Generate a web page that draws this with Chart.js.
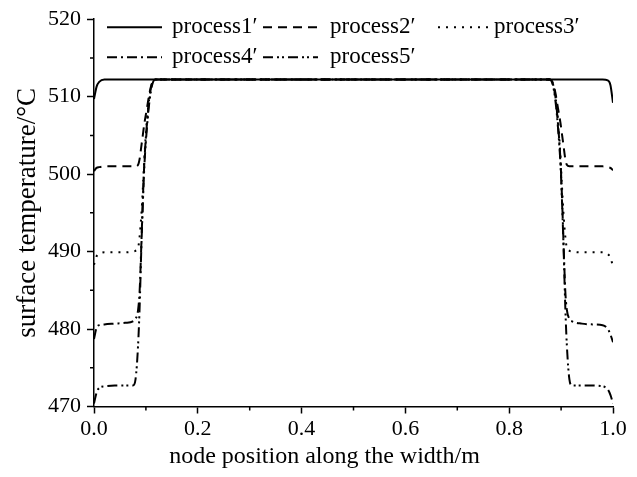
<!DOCTYPE html>
<html>
<head>
<meta charset="utf-8">
<script src="https://cdn.jsdelivr.net/npm/chart.js@4/dist/chart.umd.min.js"></script>
<style>
  html, body { margin: 0; padding: 0; background: #fff; }
  #wrap { width: 637px; height: 477px; }
</style>
</head>
<body>
<div id="wrap"><canvas id="tempChart"></canvas></div>
<script>
// node positions along the width (m)
const nodePos = [0, 0.005, 0.01, 0.02, 0.04, 0.06, 0.075,
    0.08, 0.085, 0.088, 0.091, 0.094, 0.097, 0.102, 0.107, 0.112, 0.118,
    0.13, 0.2, 0.3, 0.4, 0.5, 0.6, 0.7, 0.8, 0.87,
    0.878, 0.884, 0.889, 0.894, 0.899, 0.902, 0.905, 0.908, 0.911, 0.916, 0.921,
    0.94, 0.96, 0.98, 0.99, 0.995, 1.0];

// surface temperature (°C) per process
const process1 = [509.7, 511.3, 511.9, 512.2, 512.2, 512.2, 512.2,
    512.2, 512.2, 512.2, 512.2, 512.2, 512.2, 512.2, 512.2, 512.2, 512.2,
    512.2, 512.2, 512.2, 512.2, 512.2, 512.2, 512.2, 512.2, 512.2,
    512.2, 512.2, 512.2, 512.2, 512.2, 512.2, 512.2, 512.2, 512.2, 512.2, 512.2,
    512.2, 512.2, 512.2, 512.1, 511.5, 509.2];
const process2 = [500.4, 500.8, 500.9, 501.0, 501.0, 501.0, 501.0,
    501.0, 501.2, 502.0, 503.5, 505.0, 506.5, 508.5, 510.5, 511.8, 512.2,
    512.2, 512.2, 512.2, 512.2, 512.2, 512.2, 512.2, 512.2, 512.2,
    512.2, 511.8, 510.5, 508.5, 506.5, 505.0, 503.5, 502.0, 501.2, 501.0, 501.0,
    501.0, 501.0, 501.0, 500.9, 500.8, 500.5];
const process3 = [488.3, 489.4, 489.7, 489.9, 489.9, 489.9, 490.0,
    490.1, 490.5, 492.0, 494.5, 498.0, 502.0, 507.0, 510.0, 511.7, 512.2,
    512.2, 512.2, 512.2, 512.2, 512.2, 512.2, 512.2, 512.2, 512.2,
    512.2, 511.7, 510.0, 507.0, 502.0, 498.0, 494.5, 492.0, 490.5, 490.1, 490.0,
    489.9, 489.9, 489.9, 489.7, 489.2, 488.1];
const process4 = [478.7, 480.2, 480.5, 480.6, 480.7, 480.8, 481.0,
    481.3, 482.5, 485.0, 490.5, 496.5, 501.5, 506.5, 510.0, 511.7, 512.2,
    512.2, 512.2, 512.2, 512.2, 512.2, 512.2, 512.2, 512.2, 512.2,
    512.2, 511.7, 510.0, 506.5, 501.5, 496.5, 490.5, 485.0, 482.5, 481.3, 481.0,
    480.7, 480.6, 480.5, 480.0, 479.3, 478.3];
const process5 = [470.4, 471.8, 472.4, 472.6, 472.7, 472.7, 472.7,
    473.5, 478.0, 483.0, 490.0, 496.0, 501.0, 506.0, 509.5, 511.5, 512.2,
    512.2, 512.2, 512.2, 512.2, 512.2, 512.2, 512.2, 512.2, 512.2,
    512.2, 511.5, 509.5, 506.0, 501.0, 496.0, 490.0, 483.0, 478.0, 473.5, 472.7,
    472.7, 472.7, 472.6, 472.2, 471.5, 470.4];

const seriesNames = ["process1\u2032", "process2\u2032", "process3\u2032", "process4\u2032", "process5\u2032"];
const xMinorTicks = [0.1, 0.3, 0.5, 0.7, 0.9];
const yMinorTicks = [475, 485, 495, 505, 515];

const serif = "'Liberation Serif', 'Times New Roman', serif";
const dashes = [[], [9, 6], [2, 6], [10, 4, 2, 4], [10, 4, 2, 3, 2, 4]];

function toPoints(values) {
    return nodePos.map((x, i) => ({ x: x, y: values[i] }));
}

// minor tick marks on both axes, drawn outward
const minorTicks = {
    id: "minorTicks",
    afterDraw(chart) {
        const { ctx, scales: { x, y } } = chart;
        ctx.save();
        ctx.strokeStyle = "#000";
        ctx.lineWidth = 1.5;
        ctx.beginPath();
        xMinorTicks.forEach((v) => {
            const px = x.getPixelForValue(v);
            ctx.moveTo(px, x.top);
            ctx.lineTo(px, x.top + 4);
        });
        yMinorTicks.forEach((v) => {
            const py = y.getPixelForValue(v);
            ctx.moveTo(y.right, py);
            ctx.lineTo(y.right - 4, py);
        });
        ctx.stroke();
        ctx.restore();
    }
};

// legend inside the plot, 3 items on the first row and 2 on the second
const insideLegend = {
    id: "insideLegend",
    afterDraw(chart) {
        const { ctx, chartArea } = chart;
        const slots = [
            { x: 13, row: 0, w: 55, gap: 10 },
            { x: 169, row: 0, w: 55, gap: 12 },
            { x: 344, row: 0, w: 52, gap: 4 },
            { x: 13, row: 1, w: 55, gap: 10 },
            { x: 169, row: 1, w: 55, gap: 12 }
        ];
        ctx.save();
        ctx.font = "23px " + serif;
        ctx.textBaseline = "middle";
        ctx.fillStyle = "#000";
        chart.data.datasets.forEach((ds, i) => {
            const s = slots[i];
            const left = chartArea.left + s.x;
            const cy = chartArea.top + 8 + s.row * 30;
            ctx.strokeStyle = "#000";
            ctx.lineWidth = 2;
            ctx.setLineDash(ds.borderDash || []);
            ctx.beginPath();
            ctx.moveTo(left, cy);
            ctx.lineTo(left + s.w, cy);
            ctx.stroke();
            ctx.setLineDash([]);
            ctx.fillText(ds.label, left + s.w + s.gap, cy);
        });
        ctx.restore();
    }
};

const ctx = document.getElementById("tempChart").getContext("2d");
new Chart(ctx, {
    type: "line",
    data: {
        datasets: [process1, process2, process3, process4, process5].map((vals, i) => ({
            label: seriesNames[i],
            data: toPoints(vals),
            borderColor: "#000",
            borderWidth: 2,
            borderDash: dashes[i],
            pointRadius: 0,
            fill: false,
            cubicInterpolationMode: "monotone"
        }))
    },
    options: {
        responsive: true,
        maintainAspectRatio: false,
        animation: false,
        layout: { padding: { left: 36, right: 24, top: 17.5, bottom: 0 } },
        plugins: {
            legend: { display: false },
            tooltip: { enabled: false },
            title: {
                display: true,
                position: "bottom",
                text: "node position along the width/m",
                color: "#000",
                font: { family: serif, size: 24, weight: "normal", lineHeight: 1.2 },
                padding: { top: 0, bottom: 6 }
            }
        },
        scales: {
            x: {
                type: "linear",
                min: 0,
                max: 1,
                afterFit: (scale) => { scale.height = 35.7; },
                grid: { drawOnChartArea: false, drawTicks: true, tickLength: 7, tickWidth: 1.5, tickColor: "#000" },
                border: { display: true, color: "#000", width: 1.5 },
                ticks: {
                    stepSize: 0.2,
                    autoSkip: false,
                    maxRotation: 0,
                    padding: 3,
                    color: "#000",
                    font: { family: serif, size: 22 },
                    callback: (v) => Number(v).toFixed(1)
                }
            },
            y: {
                min: 470,
                max: 520,
                afterFit: (scale) => { scale.width = 58; },
                grid: { drawOnChartArea: false, drawTicks: true, tickLength: 7, tickWidth: 1.5, tickColor: "#000" },
                border: { display: true, color: "#000", width: 1.5 },
                ticks: {
                    stepSize: 10,
                    padding: 6,
                    color: "#000",
                    font: { family: serif, size: 22 }
                },
                title: {
                    display: true,
                    text: "surface temperature/\u00b0C",
                    color: "#000",
                    font: { family: serif, size: 27, lineHeight: 1.2 },
                    padding: { top: -24, bottom: 0 }
                }
            }
        }
    },
    plugins: [minorTicks, insideLegend]
});
</script>
</body>
</html>
